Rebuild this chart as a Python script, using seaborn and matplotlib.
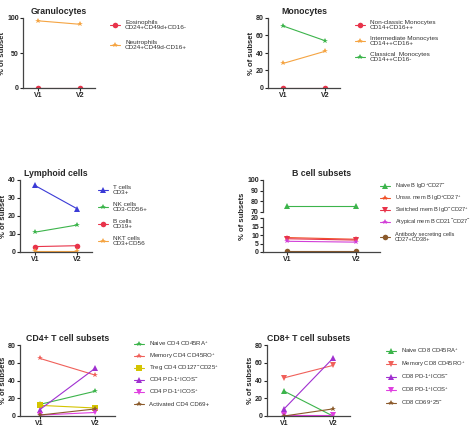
import matplotlib
matplotlib.use("Agg")
import matplotlib.pyplot as plt
import seaborn as sns
import pandas as pd

sns.set_style("ticks")
plt.rcParams['font.family'] = ['Liberation Sans', 'DejaVu Sans']
plt.rcParams['mathtext.fontset'] = 'custom'
plt.rcParams['mathtext.rm'] = 'Liberation Sans'

visits = ["V1", "V2"]

gran_names = ["Eosinophils\nCD24+CD49d+CD16-", "Neutrophils\nCD24+CD49d-CD16+"]
gran_vals = [[0.5, 0.5], [96, 91]]
gran_cols = ["#e8334a", "#f5a442"]
gran_mk = ["o", "*"]

mono_names = ["Non-classic Monocytes\nCD14+CD16++", "Intermediate Monocytes\nCD14++CD16+", "Classical  Monocytes\nCD14++CD16-"]
mono_vals = [[0.3, 0.3], [28, 42], [71, 54]]
mono_cols = ["#e8334a", "#f5a442", "#3cb44b"]
mono_mk = ["o", "*", "*"]

lym_names = ["T cells\nCD3+", "NK cells\nCD3-CD56+", "B cells\nCD19+", "NKT cells\nCD3+CD56"]
lym_vals = [[37, 24], [11, 15], [3, 3.5], [0.3, 0.3]]
lym_cols = ["#3b3bd6", "#3cb44b", "#e8334a", "#f5a442"]
lym_mk = ["^", "*", "o", "*"]

b_names = ["Naive B IgD$^{+}$CD27$^{-}$", "Unsw. mem B IgD$^{+}$CD27$^{+}$", "Switched mem B IgD$^{-}$CD27$^{+}$",
           "Atypical mem B CD21$^{-}$CD27$^{-}$", "Antibody secreting cells\nCD27+CD38+"]
b_vals = [[76, 76], [8.5, 7.5], [7.8, 7.0], [6.3, 5.8], [0.5, 0.5]]
b_cols = ["#3cb44b", "#f0522a", "#e8334a", "#d23fd8", "#8b5a2b"]
b_mk = ["^", "*", "v", "*", "o"]

cd4_names = ["Naive CD4 CD45RA$^{+}$", "Memory CD4 CD45RO$^{+}$", "Treg CD4 CD127$^{-}$CD25$^{+}$",
             "CD4 PD-1$^{+}$ICOS$^{-}$", "CD4 PD-1$^{+}$ICOS$^{+}$", "Activated CD4 CD69+"]
cd4_vals = [[13, 28], [65, 46], [12, 9], [7, 54], [1, 4], [1, 8]]
cd4_cols = ["#3cb44b", "#f0605a", "#d4c400", "#a030d0", "#e040e0", "#8b5a2b"]
cd4_mk = ["*", "*", "s", "^", "v", "*"]

cd8_names = ["Naive CD8 CD45RA$^{+}$", "Memory CD8 CD45RO$^{+}$", "CD8 PD-1$^{+}$ICOS$^{-}$",
             "CD8 PD-1$^{+}$ICOS$^{+}$", "CD8 CD69$^{+}$25$^{-}$"]
cd8_vals = [[28, 0], [43, 57], [8, 65], [1, 1], [0, 8]]
cd8_cols = ["#3cb44b", "#f0605a", "#a030d0", "#e040e0", "#8b5a2b"]
cd8_mk = ["^", "v", "^", "v", "*"]

W, H = 474, 429
fig = plt.figure(figsize=(W / 100, H / 100), dpi=100)

def rect(x0, y0, x1, y1):
    return [x0 / W, 1 - y1 / H, (x1 - x0) / W, (y1 - y0) / H]

def style_ax(ax, ylim, yticks, ylabel):
    ax.set_xlim(-0.35, 1.35)
    ax.set_ylim(*ylim)
    ax.set_yticks(yticks)
    ax.set_xlabel("")
    ax.set_ylabel(ylabel, fontsize=5.5, fontweight="bold", labelpad=1)
    ax.tick_params(labelsize=5, length=2, width=0.8, pad=1)
    for t in ax.get_xticklabels() + ax.get_yticklabels():
        t.set_fontweight("bold")
    sns.despine(ax=ax)
    for s in ["left", "bottom"]:
        ax.spines[s].set_linewidth(0.9)
        ax.spines[s].set_color("#444")

def draw(ax, names, vals, cols, mks):
    df = pd.DataFrame([(n, v, val) for n, vs in zip(names, vals) for v, val in zip(visits, vs)],
                      columns=["s", "v", "val"])
    sns.lineplot(data=df, x="v", y="val", hue="s", style="s", markers=dict(zip(names, mks)),
                 dashes=False, palette=dict(zip(names, cols)), ax=ax, lw=0.8, markersize=4,
                 markeredgewidth=0, legend=False, sort=False)

def legend(names, cols, mks, legx, legy, legsp, fs=4.6, extra=None):
    for i, (n, c, m) in enumerate(zip(names, cols, mks)):
        y = legy + i * legsp + (extra if (extra and i == len(names) - 1) else 0)
        fy = 1 - y / H
        fig.add_artist(plt.Line2D([legx / W, (legx + 5) / W, (legx + 10) / W], [fy] * 3, color=c, lw=0.8,
                                  marker=m, markersize=4, markeredgewidth=0, markevery=[1]))
        fig.text((legx + 15) / W, fy, n, fontsize=fs, va="center", color="#333", linespacing=1.1)

def panel(r, title, names, vals, cols, mks, ylim, yticks, ylabel, legx, legy, legsp, fs=4.6):
    ax = fig.add_axes(rect(*r))
    draw(ax, names, vals, cols, mks)
    style_ax(ax, ylim, yticks, ylabel)
    ax.set_title(title, fontsize=6.3, fontweight="bold", pad=3)
    legend(names, cols, mks, legx, legy, legsp, fs)
    return ax

panel((23, 18, 95, 88), "Granulocytes", gran_names, gran_vals, gran_cols, gran_mk,
      (0, 100), [0, 50, 100], "% of subset", 110, 25, 20)
panel((268, 18, 340, 88), "Monocytes", mono_names, mono_vals, mono_cols, mono_mk,
      (0, 80), [0, 20, 40, 60, 80], "% of subset", 355, 25, 16)
panel((20, 180, 92, 252), "Lymphoid cells", lym_names, lym_vals, lym_cols, lym_mk,
      (0, 40), [0, 10, 20, 30, 40], "% of subset", 98, 190, 17)
panel((20, 345, 115, 416), "CD4+ T cell subsets", cd4_names, cd4_vals, cd4_cols, cd4_mk,
      (0, 80), [0, 20, 40, 60, 80], "% of subsets", 134, 344, 12, 4.4)
panel((267, 345, 350, 416), "CD8+ T cell subsets", cd8_names, cd8_vals, cd8_cols, cd8_mk,
      (0, 80), [0, 20, 40, 60, 80], "% of subsets", 386, 351, 13, 4.2)

# B cell broken axis
axt = fig.add_axes(rect(263, 180, 380, 212))
axb = fig.add_axes(rect(263, 218, 380, 252))
for ax in (axt, axb):
    draw(ax, b_names, b_vals, b_cols, b_mk)
style_ax(axt, (70, 100), [70, 80, 90, 100], "")
style_ax(axb, (0, 20), [0, 5, 10, 15, 20], "")
axt.spines["bottom"].set_visible(False)
axt.set_xticks([])
axt.set_title("B cell subsets", fontsize=6.3, fontweight="bold", pad=3)
fig.text(243 / W, 1 - 216 / H, "% of subsets", rotation=90, fontsize=5.5, fontweight="bold",
         va="center", ha="center")
legend(b_names, b_cols, b_mk, 380, 186, 12, 4.1, extra=3)

fig.savefig("out.png", dpi=100)
